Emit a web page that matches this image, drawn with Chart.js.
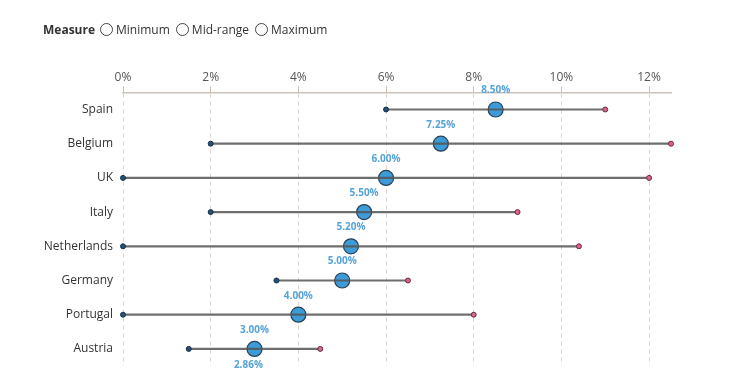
<!DOCTYPE html>
<html><head><meta charset="utf-8">
<script src="https://cdn.jsdelivr.net/npm/chart.js@4/dist/chart.umd.min.js"></script>
<style>
html,body{margin:0;padding:0;background:#fff;}
#wrap{position:relative;width:750px;height:375px;}
#legend{position:absolute;left:43px;top:21px;font-family:"Open Sans",sans-serif;font-size:12px;color:#333;display:flex;align-items:center;white-space:nowrap;}
#legend b{margin-right:5px;font-weight:700;}
.opt{display:flex;align-items:center;margin-right:6px;}
.rad{width:13px;height:13px;border:1.3px solid #444;border-radius:50%;margin-right:3px;box-sizing:border-box;}
canvas{display:block;}
</style></head>
<body><div id="wrap">
<div id="legend"><b>Measure</b><span class="opt"><span class="rad"></span>Minimum</span><span class="opt"><span class="rad"></span>Mid-range</span><span class="opt"><span class="rad"></span>Maximum</span></div>
<canvas id="c" width="750" height="375"></canvas>
</div>
<script>
const countries = ["Spain","Belgium","UK","Italy","Netherlands","Germany","Portugal","Austria"];
const minimum  = [6, 2, 0, 2, 0, 3.5, 0, 1.5];
const midRange = [8.5, 7.25, 6, 5.5, 5.2, 5, 4, 3];
const maximum  = [11, 12.5, 12, 9, 10.4, 6.5, 8, 4.5];
const extraLabelCountry = "Austria";
const extraLabelValue = 2.86;
const xTicks = [0,2,4,6,8,10,12];

const labelPlugin = {
  id:'labels',
  afterDatasetsDraw(chart){
    const ctx = chart.ctx, xs = chart.scales.x, ys = chart.scales.y;
    ctx.save();
    ctx.font = 'bold 10px "Open Sans", sans-serif';
    ctx.fillStyle = '#55a3d8';
    ctx.textAlign = 'center';
    ctx.textBaseline = 'middle';
    midRange.forEach((v,i)=>{
      const x = xs.getPixelForValue(v), y = ys.getPixelForValue(i);
      ctx.fillText(v.toFixed(2)+'%', x, y-19);
    });
    const ei = countries.indexOf(extraLabelCountry);
    ctx.fillText(extraLabelValue.toFixed(2)+'%', xs.getPixelForValue(extraLabelValue), ys.getPixelForValue(ei)+16);
    ctx.restore();
  }
};

new Chart(document.getElementById('c'), {
  type:'bar',
  data:{
    labels: countries,
    datasets:[
      {type:'line', label:'Minimum', data:minimum, showLine:false, clip:false, pointRadius:2.5, pointBackgroundColor:'#24507a', pointBorderColor:'#1a2f45', pointBorderWidth:1, order:0},
      {type:'line', label:'Maximum', data:maximum, showLine:false, clip:false, pointRadius:2.5, pointBackgroundColor:'#d9668a', pointBorderColor:'#6b2a3c', pointBorderWidth:1, order:0},
      {type:'bar', label:'range', data:minimum.map((m,i)=>[m, maximum[i]]), backgroundColor:'rgba(85,85,85,0.85)', barThickness:1.5, clip:false, order:1},
      {type:'line', label:'Mid-range', data:midRange, showLine:false, clip:false, pointRadius:7.5, pointBackgroundColor:'#3d9bd8', pointBorderColor:'#2b3f55', pointBorderWidth:1.2, order:2}
    ]
  },
  options:{
    indexAxis:'y',
    responsive:false, animation:false,
    layout:{padding:{top:68,right:79,left:0,bottom:9}},
    plugins:{legend:{display:false}, tooltip:{enabled:false}},
    scales:{
      x:{type:'linear', position:'top', min:0, max:12.5,
        afterBuildTicks(s){ s.ticks = xTicks.map(v=>({value:v})); },
        ticks:{stepSize:2, includeBounds:false, callback:v=>v+'%', color:'#555', font:{family:'"Open Sans", sans-serif', size:12}, padding:2, maxRotation:0},
        grid:{color:'#e0d3c9', tickLength:6, tickColor:'#c8bfb4', tickBorderDash:[], lineWidth:1},
        border:{display:true, color:'#cbc3b8', width:1.5, dash:[4,4]}
      },
      y:{type:'category',
        afterFit(s){ s.width = 123; s.paddingTop = 0; s.paddingBottom = 0; },
        ticks:{color:'#333', font:{family:'"Open Sans", sans-serif', size:12}, padding:10},
        grid:{display:false, drawTicks:false},
        border:{display:false}
      }
    }
  },
  plugins:[labelPlugin]
});
</script>
</body></html>
